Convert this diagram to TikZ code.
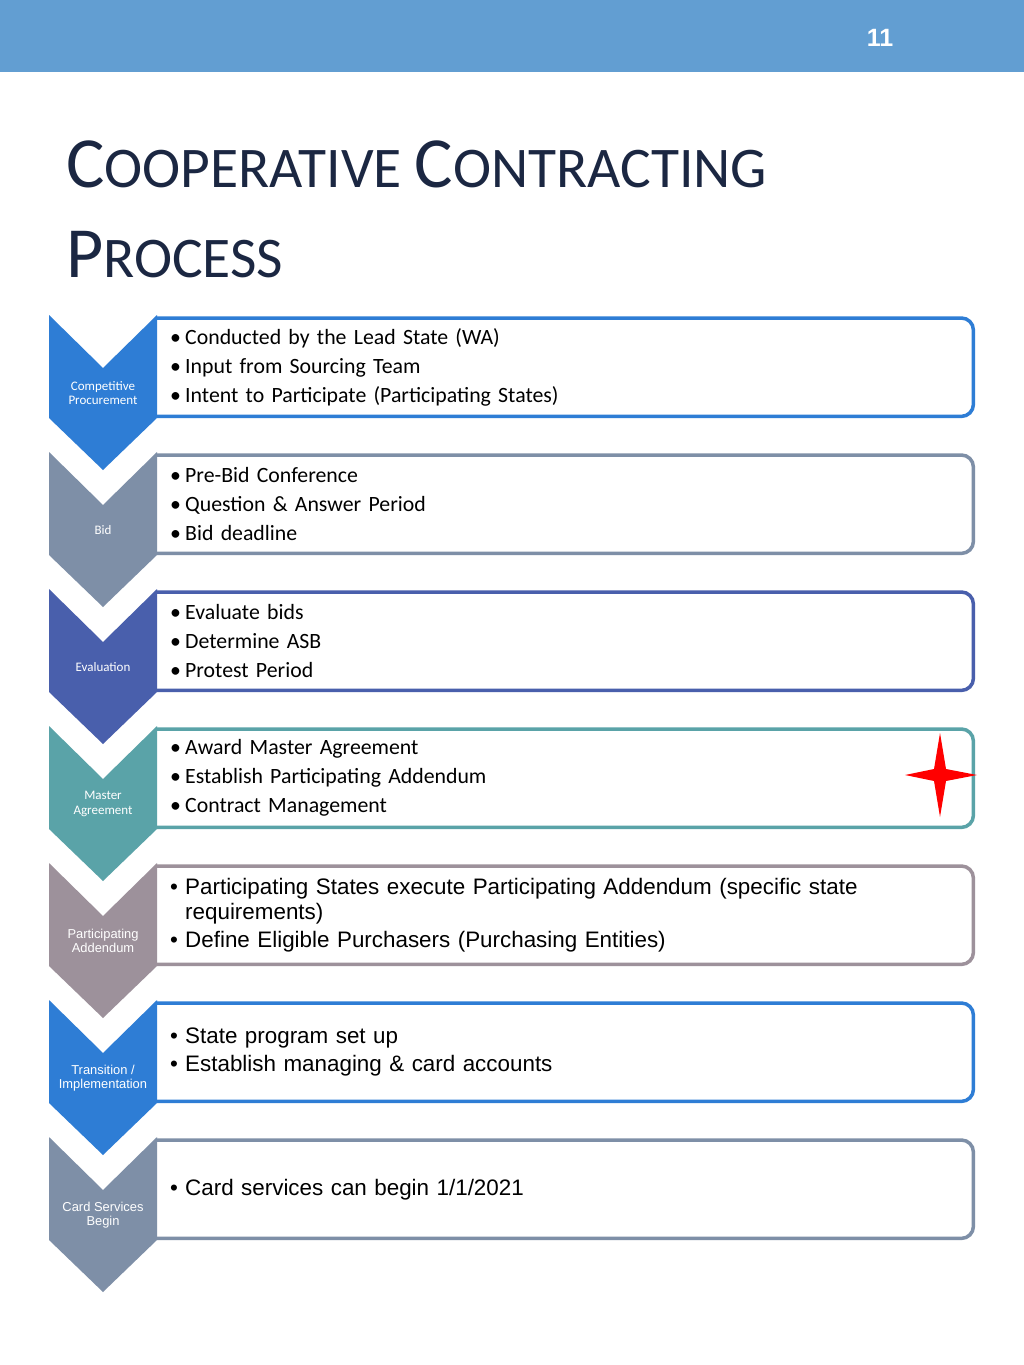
\documentclass[tikz,border=0pt]{standalone}
\usepackage{fontspec}
\setmainfont{Carlito}
\newfontfamily\arialfont{Liberation Sans}
\usepackage{xcolor}
\usetikzlibrary{positioning}

\definecolor{bannerblue}{RGB}{98,158,210}
\definecolor{titlenavy}{RGB}{27,39,66}
\definecolor{procblue}{RGB}{46,125,213}
\definecolor{bidgray}{RGB}{126,143,167}
\definecolor{evalblue}{RGB}{73,95,172}
\definecolor{agreeteal}{RGB}{90,163,168}
\definecolor{addmauve}{RGB}{157,145,155}

\newcommand{\itm}{\makebox[15pt][l]{\textbullet}}
\newcommand{\capword}[2]{{\fontsize{72}{80}\selectfont #1}{\fontsize{57.5}{80}\selectfont #2}}

\tikzset{
  stepbox/.style  = {anchor=north west, minimum width=816pt, minimum height=98pt,
                     text width=790pt, inner xsep=13pt, inner ysep=0pt, align=left},
  calbox/.style   = {stepbox, font=\fontsize{21.8}{29}\selectfont},
  arbox/.style    = {stepbox, font=\arialfont\fontsize{22.4}{24.5}\selectfont},
  boxline/.style  = {line width=3.5pt, rounded corners=12pt},
  chevlbl/.style  = {text=white, align=center, inner sep=0pt,
                     font=\fontsize{13}{14.5}\selectfont},
  chevlbla/.style = {chevlbl, font=\arialfont\fontsize{12.9}{14}\selectfont},
  titletxt/.style = {anchor=base west, inner sep=0pt, text=titlenavy,
                     font=\fontsize{57.5}{80}\selectfont},
}

\begin{document}
\begin{tikzpicture}[x=1pt, y=-1pt]
  \useasboundingbox[fill=white] (0,0) rectangle (1024,1365);

  % header bar
  \fill[bannerblue] (0,0) rectangle (1024,72);
  \node[text=white, font=\arialfont\bfseries\fontsize{25}{25}\selectfont] (pgnum) at (880,38) {11};

  % title
  \node[titletxt] (title1) at (66,187) {\capword{C}{OOPERATIVE} \capword{C}{ONTRACTING}};
  \node[titletxt] (title2) at (66,277) {\capword{P}{ROCESS}};

  % boxes
  \node[calbox] (box1) at (157,318)
    {\itm Conducted by the Lead State (WA)\\
     \itm Input from Sourcing Team\\
     \itm Intent to Participate (Participating States)};
  \draw[boxline, procblue] (box1.north west) -- (box1.north east)
    -- (box1.south east) -- (box1.south west);

  \node[calbox] (box2) at (157,455)
    {\itm Pre-Bid Conference\\
     \itm Question \& Answer Period\\
     \itm Bid deadline};
  \draw[boxline, bidgray] (box2.north west) -- (box2.north east)
    -- (box2.south east) -- (box2.south west);

  \node[calbox] (box3) at (157,592)
    {\itm Evaluate bids\\
     \itm Determine ASB\\
     \itm Protest Period};
  \draw[boxline, evalblue] (box3.north west) -- (box3.north east)
    -- (box3.south east) -- (box3.south west);

  \node[calbox] (box4) at (157,729)
    {\itm Award Master Agreement\\
     \itm Establish Participating Addendum\\
     \itm Contract Management};
  \draw[boxline, agreeteal] (box4.north west) -- (box4.north east)
    -- (box4.south east) -- (box4.south west);

  \node[arbox] (box5) at (157,866)
    {\itm Participating States execute Participating Addendum (specific state\\
     \hphantom{\itm}requirements)\\[3.5pt]
     \itm Define Eligible Purchasers (Purchasing Entities)};
  \draw[boxline, addmauve] (box5.north west) -- (box5.north east)
    -- (box5.south east) -- (box5.south west);

  \node[arbox] (box6) at (157,1003)
    {\itm State program set up\\[3pt]
     \itm Establish managing \& card accounts};
  \draw[boxline, procblue] (box6.north west) -- (box6.north east)
    -- (box6.south east) -- (box6.south west);

  \node[arbox] (box7) at (157,1140)
    {\itm Card services can begin 1/1/2021};
  \draw[boxline, bidgray] (box7.north west) -- (box7.north east)
    -- (box7.south east) -- (box7.south west);

  % chevrons
  \fill[procblue]  (49,315) -- ++(54,53) -- ++(54,-53) -- ++(0,103) -- ++(-54,52) -- ++(-54,-52) -- cycle;
  \fill[bidgray]   (49,452) -- ++(54,53) -- ++(54,-53) -- ++(0,103) -- ++(-54,52) -- ++(-54,-52) -- cycle;
  \fill[evalblue]  (49,589) -- ++(54,53) -- ++(54,-53) -- ++(0,103) -- ++(-54,52) -- ++(-54,-52) -- cycle;
  \fill[agreeteal] (49,726) -- ++(54,53) -- ++(54,-53) -- ++(0,103) -- ++(-54,52) -- ++(-54,-52) -- cycle;
  \fill[addmauve]  (49,863) -- ++(54,53) -- ++(54,-53) -- ++(0,103) -- ++(-54,52) -- ++(-54,-52) -- cycle;
  \fill[procblue]  (49,1000) -- ++(54,53) -- ++(54,-53) -- ++(0,103) -- ++(-54,52) -- ++(-54,-52) -- cycle;
  \fill[bidgray]   (49,1137) -- ++(54,53) -- ++(54,-53) -- ++(0,103) -- ++(-54,52) -- ++(-54,-52) -- cycle;

  \node[chevlbl]  (lbl1) at (103,393)  {Competitive\\Procurement};
  \node[chevlbl]  (lbl2) at (103,530)  {Bid};
  \node[chevlbl]  (lbl3) at (103,667)  {Evaluation};
  \node[chevlbl]  (lbl4) at (103,804)  {Master\\Agreement};
  \node[chevlbla] (lbl5) at (103,941)  {Participating\\Addendum};
  \node[chevlbla] (lbl6) at (103,1078) {Transition /\\Implementation};
  \node[chevlbla] (lbl7) at (103,1215) {Card Services\\Begin};

  % star
  \fill[red] (940,733) -- (946,769) -- (977,775) -- (946,781) -- (940,817)
    -- (934,781) -- (905,775) -- (934,769) -- cycle;
\end{tikzpicture}
\end{document}
